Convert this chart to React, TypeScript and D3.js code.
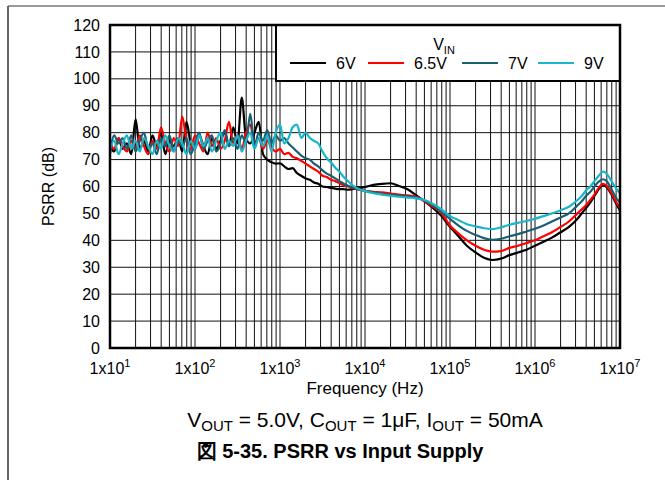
import React from "react";
import * as d3 from "d3";

const FREQ = [
  10, 11.2, 12.6, 14.1, 15.8, 17.8, 20, 22.4, 25.1, 28.2,
  31.6, 35.5, 39.8, 44.7, 50.1, 56.2, 63.1, 70.8, 79.4, 89.1,
  100, 112, 126, 141, 158, 178, 200, 224, 251, 282,
  316, 355, 398, 447, 501, 562, 631, 708, 794, 891,
  1000, 1120, 1260, 1410, 1580, 1780, 2000, 2240, 2510, 2820,
  3160, 3550, 3980, 4470, 5010, 5620, 6310, 7080, 7940, 8910,
  10000, 12600, 15800, 20000, 25100, 31600, 39800, 50100, 63100, 79400,
  100000, 126000, 158000, 200000, 251000, 316000, 398000, 501000, 631000, 794000,
  1000000, 1260000, 1580000, 2000000, 2510000, 3160000, 3550000, 3980000, 4470000, 5010000,
  5620000, 6310000, 7080000, 7940000, 8910000, 10000000,
];

const PSRR_6V = [
  75, 73, 78, 74, 76, 72, 85, 74, 77, 73,
  79, 75, 80, 72, 77, 75, 78, 73, 84, 76,
  74, 79, 75, 72, 78, 74, 77, 80, 75, 82,
  76, 93, 78, 76, 80, 84, 72, 70, 69, 68.5,
  68.6, 67.5, 66.5, 66.8, 65, 64, 63, 62.5, 61.5, 61,
  60, 59.8, 59.5, 59.2, 59, 59, 58.8, 59, 59.2, 59.5,
  59.8, 60.6, 61, 61.2, 60.2, 59, 56.8, 54.5, 52, 49,
  45, 41.5, 38, 35.5, 33.5, 32.7, 33.2, 34.5, 35.5, 36.5,
  38, 39.5, 41, 43, 45, 48, 50, 52, 54, 56.5,
  59, 60.5, 59.5, 57, 54, 51,
];

const PSRR_6V5 = [
  76, 74, 78, 75, 73, 77, 74, 79, 75, 72,
  77, 74, 82, 76, 73, 78, 75, 86, 77, 74,
  79, 76, 73, 80, 75, 78, 74, 77, 84, 76,
  79, 74, 80, 83, 76, 78, 74, 77, 74.5, 73,
  74, 72, 72.5, 71, 70.5, 69.5, 68.5, 67.5, 66.5, 65.5,
  64, 63.5, 62.5, 62, 61.2, 60.5, 60, 59.5, 59, 58.7,
  58.4, 58, 57.8, 57.4, 57, 56.7, 56.3, 54.5, 52.5, 50,
  45.5, 42.5, 40, 38, 36.5, 35.8, 36, 37.2, 38, 39,
  40, 41.5, 43, 45, 47, 50, 51.5, 53, 55, 57,
  59.5, 61, 60, 57.5, 54.5, 52,
];

const PSRR_7V = [
  72, 79, 76, 78, 74, 79, 73, 77, 80, 74,
  76, 72, 78, 75, 79, 73, 77, 75, 78, 72,
  76, 80, 74, 77, 79, 73, 76, 81, 75, 78,
  74, 79, 76, 87, 75, 80, 77, 81, 76, 79,
  77, 78, 76, 74.5, 73, 71.5, 70.5, 70, 68.5, 67.5,
  66, 64.8, 64, 63, 62, 61, 60.3, 59.7, 59.2, 58.8,
  58.4, 57.8, 57.3, 57, 56.6, 56.3, 56, 54.8, 53, 50.5,
  48, 45.5, 43.5, 42, 40.8, 40.2, 40.6, 41.5, 42.3, 43.3,
  44.3, 45.5, 47, 48.5, 50, 53, 54.5, 56.5, 58, 60,
  61.8, 62.7, 61.8, 59, 56, 54,
];

const PSRR_9V = [
  74, 77, 72, 76, 79, 74, 77, 73, 78, 75,
  72, 77, 74, 79, 75, 73, 78, 76, 72, 77,
  74, 79, 75, 78, 73, 77, 80, 74, 77, 75,
  79, 73, 77, 80, 74, 78, 75, 79, 73, 80,
  83, 76, 78, 82, 83, 78, 80, 78, 77, 76,
  73, 70.5, 69, 67, 65.5, 63.5, 62, 60.5, 59.5, 58.8,
  58.3, 57.5, 57, 56.5, 56.2, 55.9, 55.6, 55, 53.5, 51.5,
  49, 47.5, 46, 45.2, 44.5, 44.2, 44.8, 45.8, 46.5, 47.2,
  48, 49, 50, 51.2, 52.5, 55, 56.5, 58.5, 60, 62,
  64, 65.5, 64.5, 62, 59.5, 57.5,
];

const SERIES_NAMES = ["6V", "6.5V", "7V", "9V"];
const SERIES_COLORS = ["#000000", "#ff0000", "#1b5f72", "#18b6c8"];
const SERIES_VALUES = [PSRR_6V, PSRR_6V5, PSRR_7V, PSRR_9V];

const Y_TICKS = [0, 10, 20, 30, 40, 50, 60, 70, 80, 90, 100, 110, 120];
const X_DECADES = [1, 2, 3, 4, 5, 6, 7];

const W = 665;
const H = 480;
const PL = 110, PR = 620, PT = 25, PB = 348;

export default function App() {
  const x = d3.scaleLog().domain([10, 1e7]).range([PL, PR]);
  const y = d3.scaleLinear().domain([0, 120]).range([PB, PT]);

  const minor: number[] = [];
  for (let e = 1; e < 7; e++) {
    for (let m = 1; m <= 9; m++) minor.push(m * Math.pow(10, e));
  }
  minor.push(1e7);

  const line = d3
    .line<number>()
    .x((_, i) => x(FREQ[i]))
    .y((d) => y(d))
    .curve(d3.curveMonotoneX);

  const font = "'Liberation Sans', Arial, sans-serif";

  const legX = 276;
  const legY = PT;
  const legW = PR - legX;
  const legH = 56;
  const entryX = [290, 368, 462, 538];

  return (
    <svg
      width={W}
      height={H}
      style={{ position: "absolute", left: 0, top: 0, background: "#fff" }}
      fontFamily={font}
    >
      <rect x={0} y={0} width={W} height={H} fill="#fff" />
      {/* page frame */}
      <line x1={8} y1={6} x2={W} y2={6} stroke="#777" strokeWidth={1.5} />
      <line x1={8} y1={6} x2={8} y2={H} stroke="#666" strokeWidth={2} />

      <defs>
        <clipPath id="plotclip">
          <rect x={PL} y={PT} width={PR - PL} height={PB - PT} />
        </clipPath>
      </defs>

      {/* grid */}
      {minor.map((f, i) => (
        <line key={"v" + i} x1={x(f)} x2={x(f)} y1={PT} y2={PB} stroke="#111" strokeWidth={1} />
      ))}
      {Y_TICKS.map((t) => (
        <line key={"h" + t} x1={PL} x2={PR} y1={y(t)} y2={y(t)} stroke="#111" strokeWidth={1} />
      ))}

      {/* series */}
      <g clipPath="url(#plotclip)">
        {SERIES_VALUES.map((vals, i) => (
          <path
            key={SERIES_NAMES[i]}
            d={line(vals) || ""}
            fill="none"
            stroke={SERIES_COLORS[i]}
            strokeWidth={2.2}
            strokeLinejoin="round"
          />
        ))}
      </g>

      {/* legend */}
      <rect x={legX} y={legY} width={legW} height={legH} fill="#fff" stroke="#000" strokeWidth={2} />
      <text x={444} y={50} fontSize={16} textAnchor="middle">
        V<tspan fontSize={11} dy={4}>IN</tspan>
      </text>
      {SERIES_NAMES.map((n, i) => (
        <g key={"leg" + n}>
          <line x1={entryX[i]} x2={entryX[i] + 36} y1={63} y2={63} stroke={SERIES_COLORS[i]} strokeWidth={2.2} />
          <text x={entryX[i] + 46} y={69} fontSize={16}>
            {n}
          </text>
        </g>
      ))}

      {/* plot border */}
      <rect x={PL} y={PT} width={PR - PL} height={PB - PT} fill="none" stroke="#000" strokeWidth={2.5} />

      {/* y ticks */}
      {Y_TICKS.map((t) => (
        <text key={"yt" + t} x={100} y={y(t)} dy="0.35em" fontSize={16} textAnchor="end">
          {t}
        </text>
      ))}
      {/* x ticks */}
      {X_DECADES.map((e) => (
        <text key={"xt" + e} x={x(Math.pow(10, e))} y={374} fontSize={16} textAnchor="middle">
          1x10<tspan fontSize={11} dy={-7}>{e}</tspan>
        </text>
      ))}

      <text x={(PL + PR) / 2} y={394} fontSize={17} textAnchor="middle">
        Frequency (Hz)
      </text>
      <text
        transform={`translate(54, ${(PT + PB) / 2}) rotate(-90)`}
        fontSize={16}
        textAnchor="middle"
      >
        PSRR (dB)
      </text>

      <text x={365} y={427} fontSize={21} textAnchor="middle">
        V<tspan fontSize={15} dy={4}>OUT</tspan>
        <tspan dy={-4}> = 5.0V, C</tspan>
        <tspan fontSize={15} dy={4}>OUT</tspan>
        <tspan dy={-4}> = 1μF, I</tspan>
        <tspan fontSize={15} dy={4}>OUT</tspan>
        <tspan dy={-4}> = 50mA</tspan>
      </text>

      <text x={340} y={458} fontSize={20} fontWeight="bold" textAnchor="middle">
        図 5-35. PSRR vs Input Supply
      </text>
    </svg>
  );
}
